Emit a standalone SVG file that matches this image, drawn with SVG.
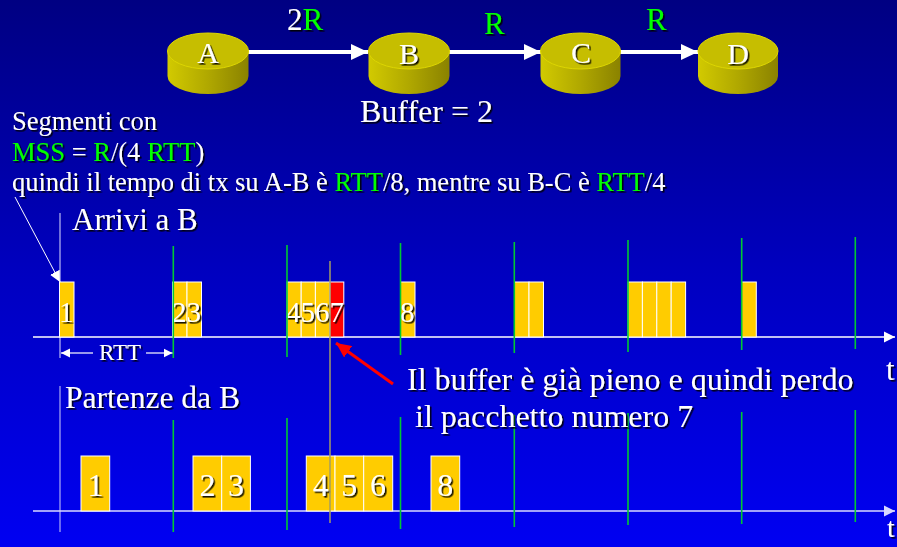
<svg xmlns="http://www.w3.org/2000/svg" width="897" height="547" viewBox="0 0 897 547">
<defs>
  <linearGradient id="bg" x1="0" y1="0" x2="0" y2="1">
    <stop offset="0" stop-color="#000082"/>
    <stop offset="0.5" stop-color="#0000c0"/>
    <stop offset="1" stop-color="#0000f2"/>
  </linearGradient>
  <linearGradient id="side" x1="0" y1="0" x2="1" y2="0">
    <stop offset="0" stop-color="#d2ca00"/>
    <stop offset="0.5" stop-color="#b0a800"/>
    <stop offset="1" stop-color="#8a8200"/>
  </linearGradient>
  <filter id="sh" x="-10%" y="-20%" width="130%" height="150%">
    <feDropShadow dx="1.6" dy="1.6" stdDeviation="0.4" flood-color="#000" flood-opacity="0.9"/>
  </filter>
  <marker id="wa" markerUnits="userSpaceOnUse" markerWidth="18" markerHeight="16" refX="17" refY="8" orient="auto">
    <path d="M0,0 L17,8 L0,16 Z" fill="#fff"/>
  </marker>
  <marker id="ta" markerUnits="userSpaceOnUse" markerWidth="12" markerHeight="12" refX="11" refY="6" orient="auto">
    <path d="M0,0.5 L11,6 L0,11.5 Z" fill="#fff"/>
  </marker>
  <marker id="ta2" markerUnits="userSpaceOnUse" markerWidth="12" markerHeight="12" refX="11" refY="6" orient="auto">
    <path d="M0,0.5 L11,6 L0,11.5 Z" fill="#d8d8ff"/>
  </marker>
  <marker id="sa" markerUnits="userSpaceOnUse" markerWidth="10" markerHeight="10" refX="9" refY="5" orient="auto-start-reverse">
    <path d="M0,0.5 L9,5 L0,9.5 Z" fill="#fff"/>
  </marker>
  <marker id="ra" markerUnits="userSpaceOnUse" markerWidth="16" markerHeight="14" refX="15" refY="7" orient="auto">
    <path d="M0,0 L15,7 L0,14 Z" fill="#ff0000"/>
  </marker>
  <style>
    text { font-family: "Liberation Serif", "Times New Roman", serif; fill: #fff; filter: url(#sh); }
    .g { fill: #00ff00; }
    .big { font-size: 31px; }
    .mid { font-size: 26.5px; }
    .lbl { font-size: 30px; text-anchor: middle; }
    .num { font-size: 29px; }
    .dnum { font-size: 32px; text-anchor: middle; }
    .top { fill: #c6be00; stroke: #ddd600; stroke-width: 1; }
    .body { fill: url(#side); }
    .box { fill: #ffcc00; stroke: #fff; stroke-width: 1; }
    .red { fill: #ff0000; stroke: #fff; stroke-width: 1; }
    .gl { stroke: #00c832; stroke-width: 1.6; }
    .link { stroke: #fff; stroke-width: 4; fill: none; marker-end: url(#wa); }
  </style>
</defs>
<rect width="897" height="547" fill="url(#bg)"/>

<g id="connectors">
  <line class="link" x1="248" y1="52" x2="368" y2="52"/>
  <line class="link" x1="449" y1="52" x2="541" y2="52"/>
  <line class="link" x1="620" y1="52" x2="698" y2="52"/>
</g>

<g id="node-A">
  <path class="body" d="M167.5,51 L167.5,76 A40.5,18 0 0 0 248.5,76 L248.5,51 Z"/>
  <ellipse class="top" cx="208" cy="51" rx="40.5" ry="18"/>
  <text class="lbl" x="208" y="63">A</text>
</g>
<g id="node-B">
  <path class="body" d="M368.5,51 L368.5,76 A40.5,18 0 0 0 449.5,76 L449.5,51 Z"/>
  <ellipse class="top" cx="409" cy="51" rx="40.5" ry="18"/>
  <text class="lbl" x="409" y="64">B</text>
</g>
<g id="node-C">
  <path class="body" d="M540.5,51 L540.5,76 A40,18 0 0 0 620.5,76 L620.5,51 Z"/>
  <ellipse class="top" cx="580.5" cy="51" rx="40" ry="18"/>
  <text class="lbl" x="581" y="63">C</text>
</g>
<g id="node-D">
  <path class="body" d="M698,51 L698,76 A40,18 0 0 0 778,76 L778,51 Z"/>
  <ellipse class="top" cx="738" cy="51" rx="40" ry="18"/>
  <text class="lbl" x="738" y="64">D</text>
</g>

<g id="link-labels">
  <text class="big" x="287" y="30">2<tspan class="g">R</tspan></text>
  <text class="big g" x="484" y="34">R</text>
  <text class="big g" x="646" y="30">R</text>
  <text x="360" y="122" font-size="32">Buffer = 2</text>
</g>

<g id="notes">
  <text class="mid" x="12" y="130">Segmenti con</text>
  <text class="mid" x="12" y="161"><tspan class="g">MSS</tspan> = <tspan class="g">R</tspan>/(4 <tspan class="g">RTT</tspan>)</text>
  <text class="mid" x="12" y="191">quindi il tempo di tx su A-B è <tspan class="g">RTT</tspan>/8, mentre su B-C è <tspan class="g">RTT</tspan>/4</text>
  <line x1="15" y1="197" x2="60" y2="282" stroke="#fff" stroke-width="1" marker-end="url(#ta)"/>
</g>

<g id="arrivals">
  <text class="big" x="72" y="230">Arrivi a B</text>
  <line x1="60" y1="213" x2="60" y2="358" stroke="#e0e0ff" stroke-width="1"/>
  <line x1="33" y1="337" x2="895" y2="337" stroke="#fff" stroke-width="1.6" marker-end="url(#ta)"/>
  <text class="big" x="886" y="380">t</text>
  <rect class="box" x="59.5" y="282" width="14.5" height="55"/>
  <rect class="box" x="172.5" y="282" width="14.5" height="55"/>
  <rect class="box" x="187" y="282" width="14.5" height="55"/>
  <rect class="box" x="287" y="282" width="14.2" height="55"/>
  <rect class="box" x="301.2" y="282" width="14.2" height="55"/>
  <rect class="box" x="315.4" y="282" width="14.4" height="55"/>
  <rect class="red" x="329.8" y="282" width="14" height="55"/>
  <rect class="box" x="400.5" y="282" width="14.5" height="55"/>
  <rect class="box" x="514.5" y="282" width="14.5" height="55"/>
  <rect class="box" x="529" y="282" width="14.5" height="55"/>
  <rect class="box" x="628" y="282" width="14.4" height="55"/>
  <rect class="box" x="642.4" y="282" width="14.4" height="55"/>
  <rect class="box" x="656.8" y="282" width="14.4" height="55"/>
  <rect class="box" x="671.2" y="282" width="14.4" height="55"/>
  <rect class="box" x="741.5" y="282" width="14.8" height="55"/>
  <text class="num" x="59" y="322">1</text>
  <text class="num" x="172" y="322">23</text>
  <text class="num" x="286" y="322">4567</text>
  <text class="num" x="400" y="322">8</text>
  <line class="gl" x1="173.3" y1="246" x2="173.3" y2="358"/>
  <line class="gl" x1="287" y1="245" x2="287" y2="357"/>
  <line class="gl" x1="400.5" y1="243" x2="400.5" y2="355"/>
  <line class="gl" x1="514.3" y1="242" x2="514.3" y2="353"/>
  <line class="gl" x1="628" y1="240" x2="628" y2="352"/>
  <line class="gl" x1="741.7" y1="238" x2="741.7" y2="350"/>
  <line class="gl" x1="855.3" y1="237" x2="855.3" y2="349"/>
  <line x1="93" y1="353" x2="61" y2="353" stroke="#fff" stroke-width="1.2" marker-end="url(#sa)"/>
  <line x1="146" y1="353" x2="172.5" y2="353" stroke="#fff" stroke-width="1.2" marker-end="url(#sa)"/>
  <text x="99" y="360" font-size="23">RTT</text>
</g>

<g id="departures">
  <text x="65" y="408" font-size="31.5">Partenze da B</text>
  <line x1="60" y1="386" x2="60" y2="532" stroke="#d0d0f8" stroke-width="1"/>
  <line x1="33" y1="511" x2="895" y2="511" stroke="#d8d8ff" stroke-width="1.6" marker-end="url(#ta2)"/>
  <text x="887" y="537" font-size="28">t</text>
  <rect class="box" x="81" y="456" width="28.7" height="55"/>
  <rect class="box" x="193" y="456" width="28.7" height="55"/>
  <rect class="box" x="221.7" y="456" width="28.7" height="55"/>
  <rect class="box" x="306.3" y="456" width="28.7" height="55"/>
  <rect class="box" x="335" y="456" width="28.7" height="55"/>
  <rect class="box" x="363.7" y="456" width="29" height="55"/>
  <rect class="box" x="431" y="456" width="28.7" height="55"/>
  <text class="dnum" x="95.5" y="496">1</text>
  <text class="dnum" x="207.5" y="496">2</text>
  <text class="dnum" x="236" y="496">3</text>
  <text class="dnum" x="320.7" y="496">4</text>
  <text class="dnum" x="349.3" y="496">5</text>
  <text class="dnum" x="378" y="496">6</text>
  <text class="dnum" x="445.3" y="496">8</text>
  <line class="gl" x1="173.3" y1="420" x2="173.3" y2="532"/>
  <line class="gl" x1="287" y1="418" x2="287" y2="530"/>
  <line class="gl" x1="400.5" y1="417" x2="400.5" y2="529"/>
  <line class="gl" x1="514.3" y1="415" x2="514.3" y2="527"/>
  <line class="gl" x1="628" y1="413" x2="628" y2="525"/>
  <line class="gl" x1="741.7" y1="412" x2="741.7" y2="524"/>
  <line class="gl" x1="855.3" y1="410" x2="855.3" y2="522"/>
</g>

<line x1="330" y1="261" x2="330" y2="523" stroke="#a39d66" stroke-width="1.5"/>

<g id="loss-note">
  <line x1="393" y1="384" x2="336" y2="343" stroke="#ff0000" stroke-width="3" marker-end="url(#ra)"/>
  <text x="407" y="390" font-size="32">Il buffer è già pieno e quindi perdo</text>
  <text x="407" y="427" font-size="32" xml:space="preserve"> il pacchetto numero 7</text>
</g>
</svg>
